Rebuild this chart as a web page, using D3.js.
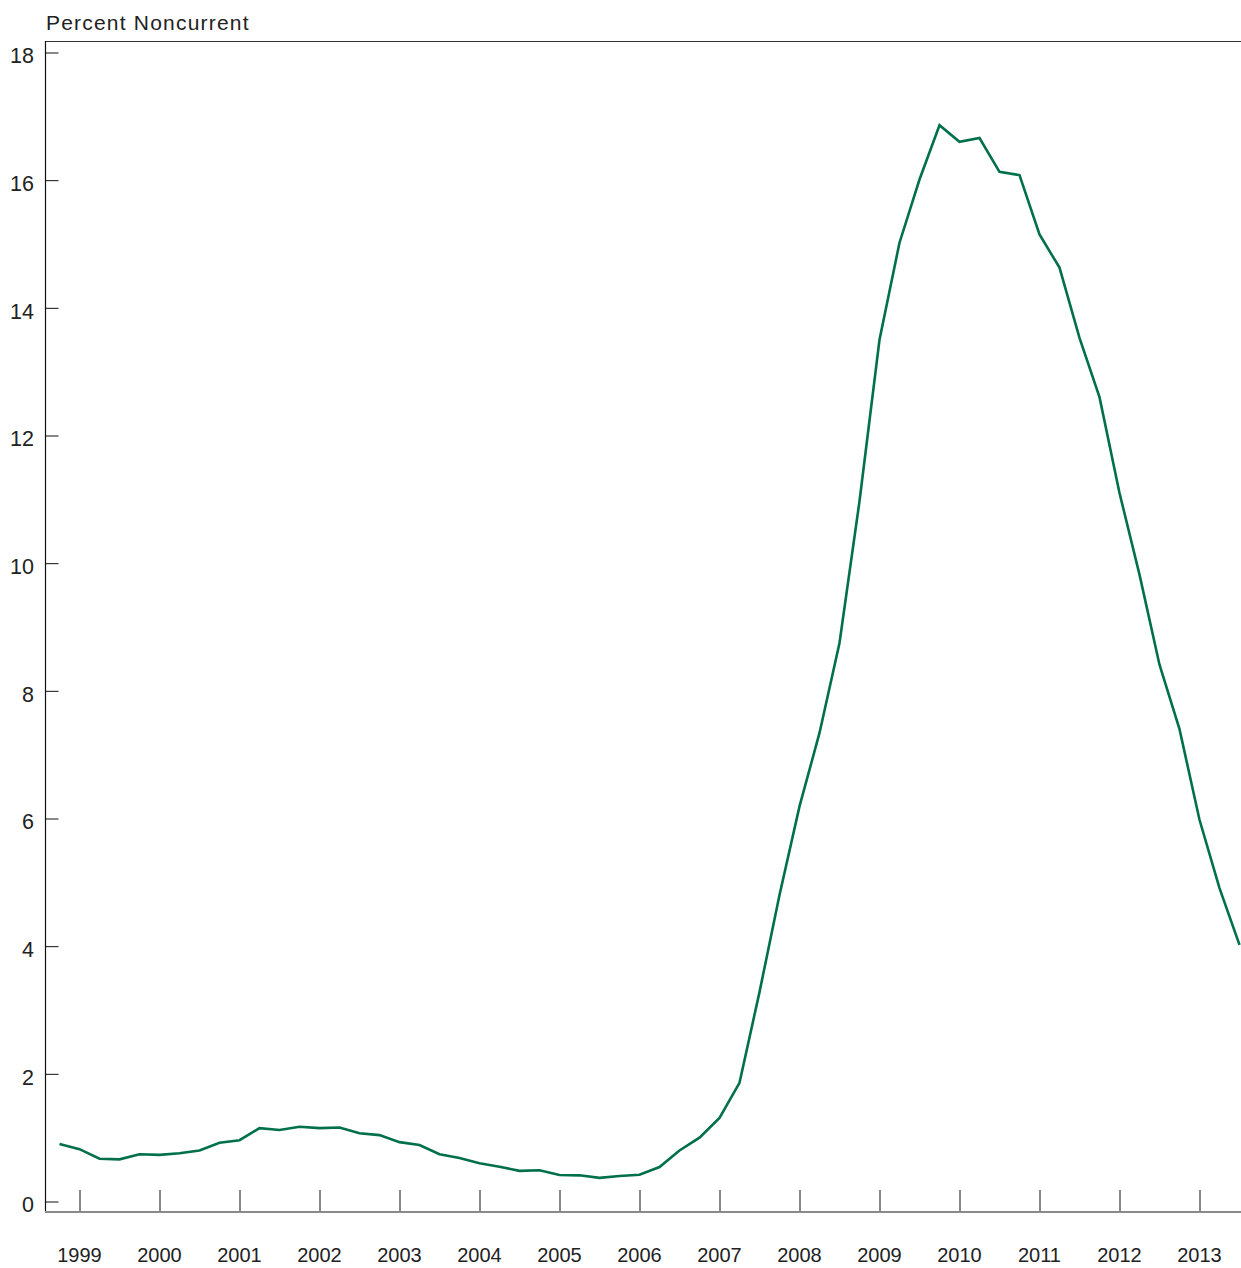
<!DOCTYPE html>
<html>
<head>
<meta charset="utf-8">
<script src="https://cdn.jsdelivr.net/npm/d3@7"></script>
<style>
  body { margin: 0; background: #fff; }
  svg { display: block; font-family: "Liberation Sans", Arial, sans-serif; }
</style>
</head>
<body>
<div id="chart"></div>
<script>
// quarterly, 1998 Q4 .. 2013 Q3
const startYear = 1998, startQuarter = 4;
const noncurrent = [
  0.90, 0.82, 0.67, 0.66, 0.74, 0.73, 0.755, 0.80, 0.92, 0.96,
  1.15, 1.12, 1.17, 1.15, 1.16, 1.07, 1.04, 0.93, 0.885, 0.74,
  0.68, 0.60, 0.545, 0.48, 0.49, 0.415, 0.41, 0.37, 0.40, 0.42,
  0.54, 0.80, 1.00, 1.31, 1.86, 3.28, 4.80, 6.19, 7.34, 8.75,
  10.97, 13.50, 15.02, 16.01, 16.86, 16.60, 16.66, 16.13, 16.08, 15.15,
  14.63, 13.53, 12.60, 11.10, 9.82, 8.41, 7.40, 5.98, 4.91, 4.02
];
const yearTicks = d3.range(1999, 2014);
const yTicks = d3.range(0, 19, 2);
const yLabel = "Percent Noncurrent";

const width = 1241, height = 1268;
const plotLeft = 45, plotRight = 1241, plotTop = 41, plotBottom = 1212;

const svg = d3.select("#chart").append("svg")
  .attr("width", width)
  .attr("height", height);

const x = d3.scaleLinear().domain([1999, 2013]).range([79.5, 1199.5]);
const y = d3.scaleLinear().domain([0, 18]).range([1201.5, 52.5]);

const points = noncurrent.map((v, i) => {
  const q = startQuarter - 1 + i;
  return { t: startYear + q / 4, v };
});

// frame lines
svg.append("line")
  .attr("x1", plotLeft).attr("x2", plotRight).attr("y1", plotTop + 0.5).attr("y2", plotTop + 0.5)
  .attr("stroke", "#333").attr("stroke-width", 1.2);
svg.append("line")
  .attr("x1", plotLeft + 0.5).attr("x2", plotLeft + 0.5).attr("y1", plotTop).attr("y2", plotBottom)
  .attr("stroke", "#111").attr("stroke-width", 1.2);
svg.append("line")
  .attr("x1", plotLeft).attr("x2", plotRight).attr("y1", plotBottom).attr("y2", plotBottom)
  .attr("stroke", "#8a8a8a").attr("stroke-width", 1.8);

// y axis ticks, inside
const yAxis = svg.append("g").attr("transform", `translate(${plotLeft + 0.5},0)`)
  .call(d3.axisRight(y).tickValues(yTicks).tickSize(13).tickFormat(""));
yAxis.select(".domain").remove();
yAxis.selectAll("line").attr("stroke", "#111").attr("stroke-width", 1);

svg.append("g").selectAll("text")
  .data(yTicks)
  .join("text")
  .attr("x", 34)
  .attr("y", d => y(d) + 3)
  .attr("dy", "0.36em")
  .attr("text-anchor", "end")
  .attr("font-size", 21.5)
  .attr("fill", "#222")
  .text(d => d);

// x axis ticks pointing up from the base line
const xAxis = svg.append("g").attr("transform", `translate(0,${plotBottom - 1})`)
  .call(d3.axisTop(x).tickValues(yearTicks).tickSize(21).tickFormat(""));
xAxis.select(".domain").remove();
xAxis.selectAll("line").attr("stroke", "#111").attr("stroke-width", 1);

svg.append("g").selectAll("text")
  .data(yearTicks)
  .join("text")
  .attr("x", d => x(d))
  .attr("y", 1262)
  .attr("text-anchor", "middle")
  .attr("font-size", 20)
  .attr("fill", "#222")
  .text(d => d);

svg.append("text")
  .attr("x", 46)
  .attr("y", 30)
  .attr("font-size", 21)
  .attr("letter-spacing", 1.2)
  .attr("fill", "#222")
  .text(yLabel);

const line = d3.line().x(d => x(d.t)).y(d => y(d.v));

svg.append("path")
  .datum(points)
  .attr("d", line)
  .attr("fill", "none")
  .attr("stroke", "#00704a")
  .attr("stroke-width", 2.6)
  .attr("stroke-linejoin", "miter");
</script>
</body>
</html>
